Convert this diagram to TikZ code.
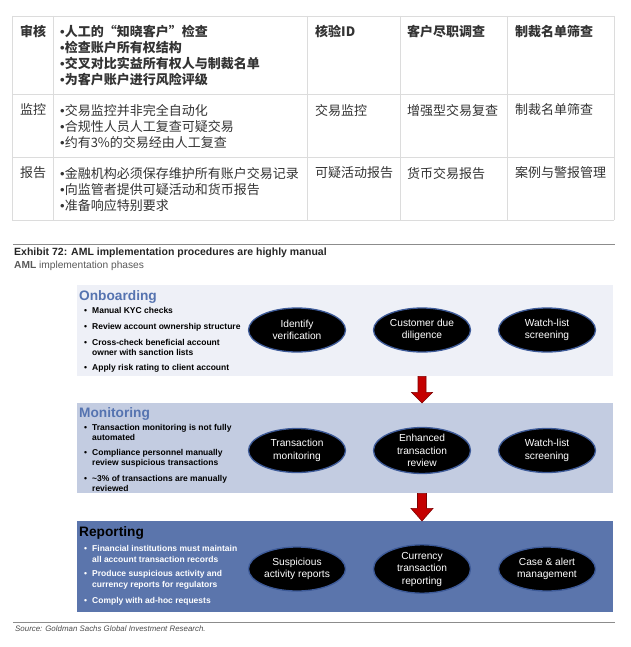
\documentclass[tikz,border=0pt]{standalone}
\usepackage{fontspec}
\setmainfont{Liberation Sans}
\newfontfamily\cjk{Noto Sans CJK SC}
\newfontfamily\latinbul{Liberation Sans}
\newcommand\tbul{{\latinbul •}}
\usetikzlibrary{shapes.geometric,calc}

\definecolor{tabtext}{HTML}{333333}
\definecolor{tabline}{HTML}{DCDCDC}
\definecolor{rulegray}{HTML}{8C8C8C}
\definecolor{onbfill}{HTML}{EEF0F7}
\definecolor{monfill}{HTML}{C3CCE1}
\definecolor{repfill}{HTML}{5B75AC}
\definecolor{titleblue}{HTML}{5573B0}
\definecolor{ringblue}{HTML}{3D5A98}
\definecolor{arrowred}{HTML}{C40000}

\tikzset{
  cell/.style={anchor=north west, inner sep=0pt, align=left, text=tabtext,
    font=\cjk\fontsize{13}{16}\selectfont},
  headcell/.style={cell, font=\cjk\bfseries\fontsize{13}{16}\selectfont},
  phasebox/.style={anchor=north west, inner sep=0pt, minimum width=536pt},
  phasetitle/.style={anchor=base west, inner sep=0pt, font=\bfseries\fontsize{13.7}{16}\selectfont},
  item/.style={anchor=north west, inner sep=0pt, align=left, font=\bfseries\fontsize{8.5}{10.5}\selectfont},
  dot/.style={anchor=north west, inner sep=0pt, text height=6.2pt, font=\bfseries\fontsize{8.5}{10.5}\selectfont},
  phase/.style={ellipse, fill=black, draw=ringblue, line width=1.3pt, inner sep=0pt,
    minimum width=97pt, minimum height=44pt, text=white, align=center,
    font=\fontsize{10.2}{12.5}\selectfont},
  blockarrow/.style={fill=arrowred, draw=arrowred!65!black, line width=0.6pt}
}

\begin{document}
\begin{tikzpicture}[x=1pt,y=-1pt]
\useasboundingbox (0,0) rectangle (630,647);

% table
\foreach \yy in {16,94,157,220}
  \draw[tabline, line width=0.8pt] (12,\yy) -- (614,\yy);
\foreach \xx in {12,53,307,400,507,614}
  \draw[tabline, line width=0.8pt] (\xx,16) -- (\xx,220);

\node[headcell] (t11) at (20,24.8) {审核};
\node[headcell] (t12) at (60,24.8) {\tbul{}人工的“知晓客户”检查\\\tbul{}检查账户所有权结构\\\tbul{}交叉对比实益所有权人与制裁名单\\\tbul{}为客户账户进行风险评级};
\node[headcell] (t13) at (315,24.8) {核验ID};
\node[headcell] (t14) at (407,24.8) {客户尽职调查};
\node[headcell] (t15) at (515,24.8) {制裁名单筛查};

\node[cell] (t21) at (20,103.8) {监控};
\node[cell] (t22) at (60,103.8) {\tbul{}交易监控并非完全自动化\\\tbul{}合规性人员人工复查可疑交易\\\tbul{}约有3\%的交易经由人工复查};
\node[cell] (t23) at (315,103.8) {交易监控};
\node[cell] (t24) at (407,103.8) {增强型交易复查};
\node[cell] (t25) at (515,103.8) {制裁名单筛查};

\node[cell] (t31) at (20,166.8) {报告};
\node[cell] (t32) at (60,166.8) {\tbul{}金融机构必须保存维护所有账户交易记录\\\tbul{}向监管者提供可疑活动和货币报告\\\tbul{}准备响应特别要求};
\node[cell] (t33) at (315,166.8) {可疑活动报告};
\node[cell] (t34) at (407,166.8) {货币交易报告};
\node[cell] (t35) at (515,166.8) {案例与警报管理};

% exhibit header
\draw[rulegray, line width=0.8pt] (13,244) -- (615,244);
\node[anchor=base west, inner sep=0pt, text=black!85, font=\bfseries\fontsize{10.5}{12}\selectfont]
  (extitle) at (14,255.5) {Exhibit 72: AML implementation procedures are highly manual};
\node[anchor=base west, inner sep=0pt, text=black!65, font=\fontsize{10.2}{12}\selectfont]
  (exsub) at (14,268) {\textbf{AML} implementation phases};

% phase boxes
\node[phasebox, fill=onbfill, minimum height=91pt] (onb) at (77,285) {};
\node[phasebox, fill=monfill, minimum height=90pt] (mon) at (77,403) {};
\node[phasebox, fill=repfill, minimum height=91pt] (rep) at (77,521) {};

\node[phasetitle, text=titleblue] (onbtitle) at (79,300) {Onboarding};
\node[phasetitle, text=titleblue] (montitle) at (79,417.5) {Monitoring};
\node[phasetitle, text=black] (reptitle) at (79,536) {Reporting};

% onboarding items
\foreach \yy/\txt [count=\i] in {306.8/Manual KYC checks,
    322.8/Review account ownership structure,
    338.8/{Cross-check beneficial account\\owner with sanction lists},
    363.8/Apply risk rating to client account} {
  \node[dot] (ondot\i) at (84,\yy) {•};
  \node[item] (onitem\i) at (92,\yy) {\txt};
}

% monitoring items
\foreach \yy/\txt [count=\i] in {423.8/{Transaction monitoring is not fully\\automated},
    448.8/{Compliance personnel manually\\review suspicious transactions},
    474.8/{\textasciitilde3\% of transactions are manually\\reviewed}} {
  \node[dot] (modot\i) at (84,\yy) {•};
  \node[item] (moitem\i) at (92,\yy) {\txt};
}

% reporting items
\foreach \yy/\txt [count=\i] in {544.8/{Financial institutions must maintain\\all account transaction records},
    569.8/{Produce suspicious activity and\\currency reports for regulators},
    596.8/Comply with ad-hoc requests} {
  \node[dot, text=white] (redot\i) at (84,\yy) {•};
  \node[item, text=white, font=\bfseries\fontsize{8.5}{11.5}\selectfont] (reitem\i) at (92,\yy) {\txt};
}

% ellipses
\node[phase] (o1) at (297,330) {Identify\\verification};
\node[phase] (o2) at (422,330) {Customer due\\diligence};
\node[phase] (o3) at (547,330) {Watch-list\\screening};

\node[phase] (m1) at (297,450.5) {Transaction\\monitoring};
\node[phase] (m2) at (422,450.5) {Enhanced\\transaction\\review};
\node[phase] (m3) at (547,450.5) {Watch-list\\screening};

\node[phase] (r1) at (297,569) {Suspicious\\activity reports};
\node[phase] (r2) at (422,569) {Currency\\transaction\\reporting};
\node[phase] (r3) at (547,569) {Case \& alert\\management};

% red arrows between phases
\coordinate (a1) at (o2 |- onb.south);
\coordinate (b1) at (o2 |- mon.north);
\draw[blockarrow] ($(a1)+(-4,0)$) -- ($(a1)+(4,0)$) -- ($(a1)+(4,16)$) -- ($(a1)+(10.5,16)$)
  -- (b1) -- ($(a1)+(-10.5,16)$) -- ($(a1)+(-4,16)$) -- cycle;
\coordinate (a2) at (o2 |- mon.south);
\coordinate (b2) at (o2 |- rep.north);
\draw[blockarrow] ($(a2)+(-4.5,0)$) -- ($(a2)+(4.5,0)$) -- ($(a2)+(4.5,15)$) -- ($(a2)+(11,15)$)
  -- (b2) -- ($(a2)+(-11,15)$) -- ($(a2)+(-4.5,15)$) -- cycle;

% source
\draw[rulegray, line width=0.8pt] (13,622) -- (615,622);
\node[anchor=base west, inner sep=0pt, text=black!70, font=\itshape\fontsize{7.9}{9}\selectfont]
  (source) at (15,631.5) {Source: Goldman Sachs Global Investment Research.};
\end{tikzpicture}
\end{document}
